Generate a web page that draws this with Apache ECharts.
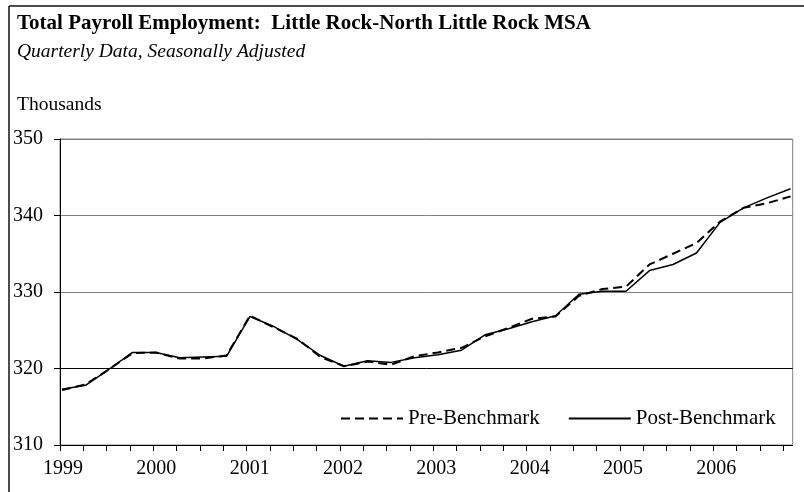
<!DOCTYPE html>
<html>
<head>
<meta charset="utf-8">
<script src="https://cdn.jsdelivr.net/npm/echarts@6/dist/echarts.min.js"></script>
<style>
  html, body { margin: 0; padding: 0; background: #fff; }
  #chart { width: 804px; height: 492px; }
</style>
</head>
<body>
<div id="chart"></div>
<script>
// Quarterly payroll employment, thousands, 1999Q1 - 2006Q4
const quarters = [
  '1999Q1','1999Q2','1999Q3','1999Q4','2000Q1','2000Q2','2000Q3','2000Q4',
  '2001Q1','2001Q2','2001Q3','2001Q4','2002Q1','2002Q2','2002Q3','2002Q4',
  '2003Q1','2003Q2','2003Q3','2003Q4','2004Q1','2004Q2','2004Q3','2004Q4',
  '2005Q1','2005Q2','2005Q3','2005Q4','2006Q1','2006Q2','2006Q3','2006Q4'
];
const preBenchmark = [
  317.2, 317.9, 319.9, 322.0, 322.1, 321.3, 321.3, 321.7,
  326.9, 325.4, 323.9, 321.5, 320.3, 320.9, 320.5, 321.6,
  322.1, 322.7, 324.2, 325.3, 326.5, 326.8, 329.5, 330.4,
  330.7, 333.6, 335.0, 336.4, 339.2, 341.0, 341.6, 342.5
];
const postBenchmark = [
  317.3, 317.8, 319.9, 322.1, 322.1, 321.4, 321.5, 321.6,
  326.8, 325.5, 323.8, 321.7, 320.3, 321.0, 320.8, 321.4,
  321.8, 322.4, 324.4, 325.2, 326.1, 326.9, 329.7, 330.1,
  330.1, 332.8, 333.6, 335.1, 339.1, 341.0, 342.3, 343.5
];
const yearLabels = ['1999','2000','2001','2002','2003','2004','2005','2006'];
const yTicks = [310, 320, 330, 340, 350];

const FONT = '"Liberation Serif", "Times New Roman", serif';

const quarterTicks = quarters.map((q, i) => i);
const yearTicks = yearLabels.map((y, i) => i * 4);

const chart = echarts.init(document.getElementById('chart'), null, { renderer: 'canvas' });

chart.setOption({
  animation: false,
  backgroundColor: '#ffffff',
  graphic: [
    { type: 'line', shape: { x1: 9, y1: 6, x2: 804, y2: 6 }, style: { stroke: '#111', lineWidth: 1.5 } },
    { type: 'line', shape: { x1: 9, y1: 6, x2: 9, y2: 492 }, style: { stroke: '#111', lineWidth: 1.5 } },
    { type: 'text', left: 17, top: 13,
      style: { text: 'Total Payroll Employment:  Little Rock-North Little Rock MSA',
               font: 'bold 21px ' + FONT, fill: '#000' } },
    { type: 'text', left: 17, top: 42,
      style: { text: 'Quarterly Data, Seasonally Adjusted',
               font: 'italic 19.5px ' + FONT, fill: '#000' } },
    { type: 'text', left: 17, top: 95,
      style: { text: 'Thousands', font: '19.5px ' + FONT, fill: '#000' } }
  ],
  legend: {
    left: 335, top: 403,
    itemWidth: 62, itemHeight: 20, itemGap: 28,
    itemStyle: { opacity: 0 },
    textStyle: { fontFamily: FONT, fontSize: 21, color: '#000' },
    data: ['Pre-Benchmark', 'Post-Benchmark']
  },
  grid: [
    // axis frame
    { left: 60, right: 11.3, top: 139, bottom: 47, show: true,
      borderColor: '#808080', borderWidth: 1, backgroundColor: 'transparent' },
    // data area
    { left: 62, right: 13.5, top: 139, bottom: 47 }
  ],
  xAxis: [
    {
      gridIndex: 0, type: 'value', min: 0, max: 31.4, interval: 1,
      axisLine: { show: true, lineStyle: { color: '#000', width: 1 } },
      axisTick: { show: true, length: 6, customValues: quarterTicks,
                  lineStyle: { color: '#000', width: 1 } },
      axisLabel: {
        customValues: yearTicks,
        formatter: v => yearLabels[Math.round(v / 4)] || '',
        fontFamily: FONT, fontSize: 20, color: '#000', margin: 14,
        padding: [0, 0, 0, 6]
      },
      splitLine: { show: false }
    },
    {
      gridIndex: 1, type: 'category', data: quarters, boundaryGap: false, show: false
    }
  ],
  yAxis: [
    {
      gridIndex: 0, type: 'value', min: 310, max: 350, interval: 10,
      axisLine: { show: true, lineStyle: { color: '#000', width: 1 } },
      axisTick: { show: true, length: 6, lineStyle: { color: '#000' } },
      axisLabel: { fontFamily: FONT, fontSize: 20, color: '#000', margin: 17 },
      splitLine: { show: true,
        lineStyle: { color: ['#808080', '#000000', '#808080', '#808080', '#808080'], width: 1 } }
    },
    {
      gridIndex: 1, type: 'value', min: 310, max: 350, show: false
    }
  ],
  series: [
    {
      name: 'Pre-Benchmark', type: 'line', xAxisIndex: 1, yAxisIndex: 1,
      data: preBenchmark, symbol: 'none',
      lineStyle: { color: '#000', width: 2, type: [9, 5] },
      itemStyle: { color: '#000' }
    },
    {
      name: 'Post-Benchmark', type: 'line', xAxisIndex: 1, yAxisIndex: 1,
      data: postBenchmark, symbol: 'none',
      lineStyle: { color: '#000', width: 1.5, type: 'solid' },
      itemStyle: { color: '#000' }
    }
  ]
});
</script>
</body>
</html>
